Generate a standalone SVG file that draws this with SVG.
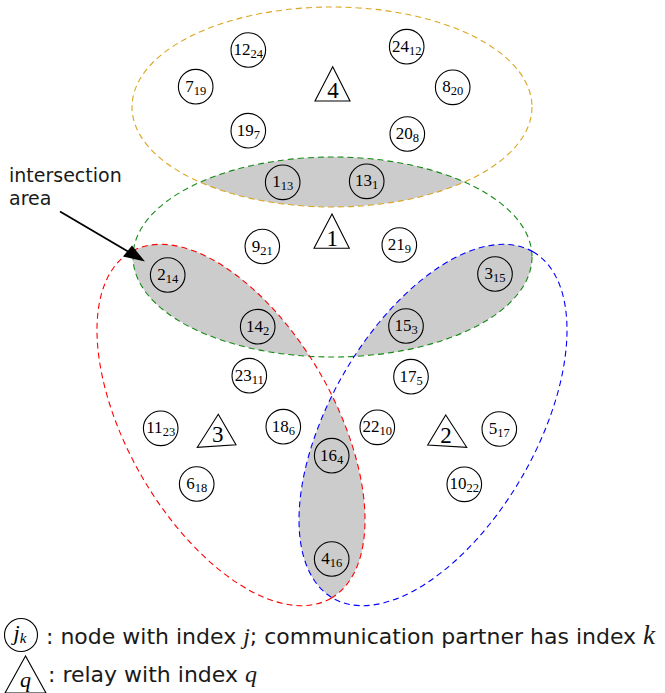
<svg xmlns="http://www.w3.org/2000/svg" width="665" height="693" viewBox="0 0 665 693">
<style>
.ell{fill:none;stroke-width:1.1;stroke-dasharray:6 4}
.lens{fill:#cccccc;stroke:none}
.nd circle{fill:none;stroke:#000;stroke-width:1.1}
.nd text{font-family:"Liberation Serif","Times New Roman",serif;font-size:17px;text-anchor:middle;fill:#000}
.nd tspan{font-size:12.5px}
.rl polygon{fill:none;stroke:#000;stroke-width:1.1}
.rl text{font-family:"Liberation Serif","Times New Roman",serif;font-size:23px;text-anchor:middle;fill:#000}
.lbl{font-family:"DejaVu Sans",Verdana,sans-serif;font-size:19px;fill:#1a1a1a}
.leg{font-family:"DejaVu Sans",Verdana,sans-serif;font-size:22px;fill:#1a1a1a}
.mi{font-family:"Liberation Serif","Times New Roman",serif;font-style:italic}
</style>
<defs>
<clipPath id="cY"><ellipse cx="332" cy="107" rx="200" ry="100"/></clipPath>
<clipPath id="cG"><ellipse cx="332.5" cy="257" rx="199.5" ry="100"/></clipPath>
<clipPath id="cR"><ellipse cx="231" cy="425" rx="200" ry="103" transform="rotate(60 231 425)"/></clipPath>
</defs>
<g id="intersections">
<g clip-path="url(#cY)"><ellipse class="lens" cx="332.5" cy="257" rx="199.5" ry="100"/></g>
<g clip-path="url(#cG)"><ellipse class="lens" cx="231" cy="425" rx="200" ry="103" transform="rotate(60 231 425)"/></g>
<g clip-path="url(#cG)"><ellipse class="lens" cx="433" cy="425" rx="200" ry="103" transform="rotate(-60 433 425)"/></g>
<g clip-path="url(#cR)"><ellipse class="lens" cx="433" cy="425" rx="200" ry="103" transform="rotate(-60 433 425)"/></g>
</g>
<g id="ranges">
<ellipse class="ell" stroke="#DAA520" cx="332" cy="107" rx="200" ry="100"/>
<ellipse class="ell" stroke="#138a13" cx="332.5" cy="257" rx="199.5" ry="100"/>
<ellipse class="ell" stroke="#ff0000" cx="231" cy="425" rx="200" ry="103" transform="rotate(60 231 425)"/>
<ellipse class="ell" stroke="#0000ff" cx="433" cy="425" rx="200" ry="103" transform="rotate(-60 433 425)"/>
</g>
<g id="connectors">
<line x1="60" y1="211.5" x2="128" y2="251.5" stroke="#000" stroke-width="1.8"/>
<polygon points="145,261.5 123,256.5 132,245.5" fill="#000"/>
</g>
<g id="n12" class="nd"><circle cx="248.3" cy="50" r="17.3"/><text x="248.3" y="55">12<tspan dy="3">24</tspan></text></g>
<g id="n24" class="nd"><circle cx="406.7" cy="46.7" r="17.3"/><text x="406.7" y="51.7">24<tspan dy="3">12</tspan></text></g>
<g id="n7" class="nd"><circle cx="195.7" cy="86.7" r="17.3"/><text x="195.7" y="91.7">7<tspan dy="3">19</tspan></text></g>
<g id="n8" class="nd"><circle cx="452.7" cy="87.3" r="17.3"/><text x="452.7" y="92.3">8<tspan dy="3">20</tspan></text></g>
<g id="n19" class="nd"><circle cx="248.3" cy="130.7" r="17.3"/><text x="248.3" y="135.7">19<tspan dy="3">7</tspan></text></g>
<g id="n20" class="nd"><circle cx="407.3" cy="134" r="17.3"/><text x="407.3" y="139">20<tspan dy="3">8</tspan></text></g>
<g id="n1" class="nd"><circle cx="282.7" cy="182.3" r="17.3"/><text x="282.7" y="187.3">1<tspan dy="3">13</tspan></text></g>
<g id="n13" class="nd"><circle cx="366.7" cy="181.3" r="17.3"/><text x="366.7" y="186.3">13<tspan dy="3">1</tspan></text></g>
<g id="n9" class="nd"><circle cx="262.3" cy="246.5" r="17.3"/><text x="262.3" y="251.5">9<tspan dy="3">21</tspan></text></g>
<g id="n21" class="nd"><circle cx="399.3" cy="245" r="17.3"/><text x="399.3" y="250">21<tspan dy="3">9</tspan></text></g>
<g id="n2" class="nd"><circle cx="167.7" cy="275" r="17.3"/><text x="167.7" y="280">2<tspan dy="3">14</tspan></text></g>
<g id="n3" class="nd"><circle cx="495" cy="274" r="17.3"/><text x="495" y="279">3<tspan dy="3">15</tspan></text></g>
<g id="n14" class="nd"><circle cx="257.7" cy="326.7" r="17.3"/><text x="257.7" y="331.7">14<tspan dy="3">2</tspan></text></g>
<g id="n15" class="nd"><circle cx="406" cy="326" r="17.3"/><text x="406" y="331">15<tspan dy="3">3</tspan></text></g>
<g id="n23" class="nd"><circle cx="249.3" cy="375.7" r="17.3"/><text x="249.3" y="380.7">23<tspan dy="3">11</tspan></text></g>
<g id="n17" class="nd"><circle cx="411" cy="376.7" r="17.3"/><text x="411" y="381.7">17<tspan dy="3">5</tspan></text></g>
<g id="n11" class="nd"><circle cx="160.7" cy="428.3" r="17.3"/><text x="160.7" y="433.3">11<tspan dy="3">23</tspan></text></g>
<g id="n18" class="nd"><circle cx="283.3" cy="426.7" r="17.3"/><text x="283.3" y="431.7">18<tspan dy="3">6</tspan></text></g>
<g id="n22" class="nd"><circle cx="377.3" cy="427.3" r="17.3"/><text x="377.3" y="432.3">22<tspan dy="3">10</tspan></text></g>
<g id="n5" class="nd"><circle cx="499.3" cy="429" r="17.3"/><text x="499.3" y="434">5<tspan dy="3">17</tspan></text></g>
<g id="n16" class="nd"><circle cx="331.7" cy="455.7" r="17.3"/><text x="331.7" y="460.7">16<tspan dy="3">4</tspan></text></g>
<g id="n6" class="nd"><circle cx="196.7" cy="484" r="17.3"/><text x="196.7" y="489">6<tspan dy="3">18</tspan></text></g>
<g id="n10" class="nd"><circle cx="464.3" cy="484.3" r="17.3"/><text x="464.3" y="489.3">10<tspan dy="3">22</tspan></text></g>
<g id="n4" class="nd"><circle cx="331.7" cy="559" r="17.3"/><text x="331.7" y="564">4<tspan dy="3">16</tspan></text></g>
<g id="r4" class="rl"><polygon points="332.7,66.7 315,101 350,101"/><text x="333" y="98.3">4</text></g>
<g id="r1" class="rl"><polygon points="332,214 314,248.3 349.3,248.3"/><text x="332.3" y="245.5">1</text></g>
<g id="r3" class="rl"><polygon points="218.3,414.3 197.3,447.3 236,444.7"/><text x="217.7" y="442">3</text></g>
<g id="r2" class="rl"><polygon points="445.7,415 427.7,445 466.7,447.3"/><text x="446" y="443.3">2</text></g>
<g id="annotation">
<text class="lbl" x="9" y="181.5">intersection</text>
<text class="lbl" x="9" y="204.5">area</text>
</g>
<g id="legend">
<g id="leg-node" class="nd"><circle cx="21" cy="635" r="16.5"/><text x="20" y="640" class="mi" style="font-size:22px">j<tspan dy="3" style="font-size:15px">k</tspan></text></g>
<text class="leg" x="46" y="644">: node with index <tspan class="mi" style="font-size:24px">j</tspan>; communication partner has index <tspan class="mi" style="font-size:27px">k</tspan></text>
<g id="leg-relay" class="rl"><polygon points="25.5,656 5,693 46,693"/><text x="25.5" y="687" class="mi" style="font-size:22px">q</text></g>
<text class="leg" x="48" y="682">: relay with index <tspan class="mi" style="font-size:24px">q</tspan></text>
</g>
</svg>
